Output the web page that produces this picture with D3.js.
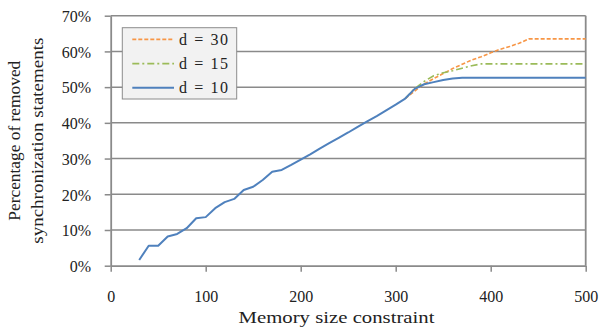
<!DOCTYPE html>
<html>
<head>
<meta charset="utf-8">
<script src="https://cdn.jsdelivr.net/npm/d3@7"></script>
<style>
  html, body { margin: 0; padding: 0; background: #fff; }
  svg { display: block; }
  text { font-family: "Liberation Serif", "DejaVu Serif", serif; fill: #222; }
</style>
</head>
<body>
<svg id="chart" width="600" height="327"></svg>
<script>
// memory size constraint (x) and percentage of removed sync statements per d
const memSizes = [30, 40, 50, 60, 70, 80, 90, 100, 110, 120, 130, 140, 150, 160, 170, 180, 190, 200,
  210, 220, 230, 240, 250, 260, 270, 280, 290, 300, 310, 320, 330, 340, 350, 360, 370, 380, 390, 400,
  410, 420, 430, 440, 450, 460, 470, 480, 490, 500];
const d10 = [1.6, 5.6, 5.6, 8.2, 8.9, 10.5, 13.3, 13.6, 16.1, 17.8, 18.7, 21.2, 22.1, 24.0, 26.3, 26.8, 28.2, 29.7,
  31.2, 32.8, 34.3, 35.8, 37.3, 38.9, 40.4, 41.9, 43.5, 45.1, 46.8, 49.5, 50.8, 51.4, 52.0, 52.4, 52.6, 52.6, 52.6, 52.6,
  52.6, 52.6, 52.6, 52.6, 52.6, 52.6, 52.6, 52.6, 52.6, 52.6];
const d15 = [null, null, null, null, null, null, null, null, null, null, null, null, null, null, null, null, null, null,
  null, null, null, null, null, null, null, null, null, null, 46.8, 49.6, 51.6, 53.2, 54.0, 54.6, 55.3, 56.0, 56.5, 56.5,
  56.5, 56.5, 56.5, 56.5, 56.5, 56.5, 56.5, 56.5, 56.5, 56.5];
const d30 = [null, null, null, null, null, null, null, null, null, null, null, null, null, null, null, null, null, null,
  null, null, null, null, null, null, null, null, null, null, 46.8, 48.9, 50.9, 52.4, 53.8, 55.2, 56.4, 57.6, 58.5, 59.6,
  60.6, 61.4, 62.3, 63.5, 63.5, 63.5, 63.5, 63.5, 63.5, 63.5];

const xTicks = [0, 100, 200, 300, 400, 500];
const yTicks = [0, 0.1, 0.2, 0.3, 0.4, 0.5, 0.6, 0.7];
const seriesNames = ["d = 30", "d = 15", "d = 10"];

const svg = d3.select("#chart");
const plotLeft = 110.7, plotRight = 585.7, plotTop = 15.7, plotBottom = 265.7;

const x = d3.scaleLinear().domain([0, 500]).range([plotLeft, plotRight]);
const y = d3.scaleLinear().domain([0, 0.7]).range([plotBottom, plotTop]);

const gridColor = "#8a8a8a";

// gridlines
svg.append("g")
  .selectAll("line")
  .data(yTicks.slice(1))
  .enter().append("line")
  .attr("x1", plotLeft).attr("x2", plotRight)
  .attr("y1", d => y(d)).attr("y2", d => y(d))
  .attr("stroke", gridColor)
  .attr("stroke-width", 1.5);

// right border
svg.append("line")
  .attr("x1", plotRight).attr("x2", plotRight)
  .attr("y1", plotTop).attr("y2", plotBottom)
  .attr("stroke", gridColor)
  .attr("stroke-width", 1.8);

// y axis
const yAxis = svg.append("g")
  .attr("transform", `translate(${plotLeft},0)`)
  .call(d3.axisLeft(y).tickValues(yTicks).tickFormat(d3.format(".0%"))
    .tickSizeInner(6).tickSizeOuter(0).tickPadding(13.7));
yAxis.select(".domain").attr("stroke", gridColor).attr("stroke-width", 1.8);
yAxis.selectAll(".tick line").attr("stroke", gridColor).attr("stroke-width", 1.5);
yAxis.selectAll("text")
  .attr("font-size", 16)
  .attr("fill", "#222")
  .attr("dy", "0.36em");

// x axis
const xAxis = svg.append("g")
  .attr("transform", `translate(0,${plotBottom})`)
  .call(d3.axisBottom(x).tickValues(xTicks).tickFormat(d3.format("d"))
    .tickSizeInner(6).tickSizeOuter(0));
xAxis.select(".domain").attr("stroke", gridColor).attr("stroke-width", 1.8);
xAxis.selectAll(".tick line").attr("stroke", gridColor).attr("stroke-width", 1.5);
xAxis.selectAll("text")
  .attr("font-size", 16)
  .attr("fill", "#222")
  .attr("y", 36.3)
  .attr("dy", null);

xAxis.attr("font-family", null);
yAxis.attr("font-family", null);

// axis titles
svg.append("text")
  .attr("x", 336.5).attr("y", 323)
  .attr("text-anchor", "middle")
  .attr("font-size", 17)
  .attr("textLength", 196)
  .attr("lengthAdjust", "spacingAndGlyphs")
  .text("Memory size constraint");

const yMid = (plotTop + plotBottom) / 2;
svg.append("text")
  .attr("transform", `translate(20,${yMid}) rotate(-90)`)
  .attr("text-anchor", "middle")
  .attr("font-size", 17)
  .attr("textLength", 160)
  .attr("lengthAdjust", "spacingAndGlyphs")
  .text("Percentage of removed");
svg.append("text")
  .attr("transform", `translate(43,${yMid}) rotate(-90)`)
  .attr("text-anchor", "middle")
  .attr("font-size", 17)
  .attr("textLength", 206)
  .attr("lengthAdjust", "spacingAndGlyphs")
  .text("synchronization statements");

// series
const styles = [
  { values: d30, color: "#F79646", dash: "4,2", width: 1.6 },
  { values: d15, color: "#9BBB59", dash: "7,3,2,3", width: 1.6 },
  { values: d10, color: "#4F81BD", dash: null, width: 2 }
];

const line = d3.line()
  .defined(d => d[1] != null)
  .x(d => x(d[0]))
  .y(d => y(d[1] / 100));

styles.forEach(s => {
  svg.append("path")
    .datum(memSizes.map((m, i) => [m, s.values[i]]))
    .attr("fill", "none")
    .attr("stroke", s.color)
    .attr("stroke-width", s.width)
    .attr("stroke-dasharray", s.dash)
    .attr("stroke-linejoin", "round")
    .attr("d", line);
});

// legend
const legend = svg.append("g");
legend.append("rect")
  .attr("x", 122.3).attr("y", 27.7)
  .attr("width", 114.4).attr("height", 71.3)
  .attr("fill", "#f2f2f2")
  .attr("stroke", "#8c8c8c")
  .attr("stroke-width", 1);

seriesNames.forEach((name, i) => {
  const base = 45 + i * 24.2;
  const s = styles[i];
  legend.append("line")
    .attr("x1", 132.3).attr("x2", 174)
    .attr("y1", base - 5.6).attr("y2", base - 5.6)
    .attr("stroke", s.color)
    .attr("stroke-width", s.width)
    .attr("stroke-dasharray", s.dash);
  legend.append("text")
    .attr("x", 179).attr("y", base)
    .attr("font-size", 16)
    .attr("textLength", 49)
    .attr("lengthAdjust", "spacing")
    .text(name);
});
</script>
</body>
</html>
